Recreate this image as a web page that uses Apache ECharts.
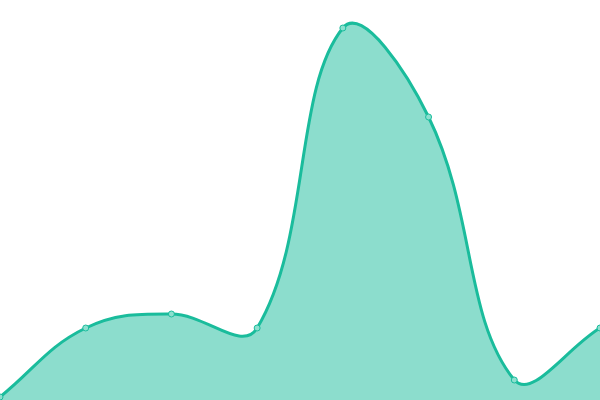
<!DOCTYPE html>
<html><head><meta charset="utf-8">
<script src="https://cdn.jsdelivr.net/npm/echarts@6/dist/echarts.min.js"></script>
<style>html,body{margin:0;padding:0;background:#fff}#c{width:600px;height:400px}</style>
</head><body><div id="c"></div>
<script>
const categories = ['A','B','C','D','E','F','G','H'];
const values = [3, 72, 86, 72, 372, 283, 20, 72];
const TENSION = 0.4;
const chart = echarts.init(document.getElementById('c'));

function renderItem(params, api) {
  if (params.dataIndex !== 0) return null;
  const pts = values.map((v, i) => api.coord([i, v]));
  const base = api.coord([0, 0])[1];
  const top = api.coord([0, 400])[1];
  const clampY = y => Math.max(top, Math.min(base, y));
  const n = pts.length;
  const cpPrev = [], cpNext = [];
  for (let i = 0; i < n; i++) {
    const p = pts[i];
    const pr = i > 0 ? pts[i - 1] : p;
    const nx = i < n - 1 ? pts[i + 1] : p;
    const d01 = Math.hypot(p[0] - pr[0], p[1] - pr[1]);
    const d12 = Math.hypot(nx[0] - p[0], nx[1] - p[1]);
    const sum = d01 + d12 || 1;
    const fa = TENSION * d01 / sum, fb = TENSION * d12 / sum;
    cpPrev.push([p[0] - fa * (nx[0] - pr[0]), clampY(p[1] - fa * (nx[1] - pr[1]))]);
    cpNext.push([p[0] + fb * (nx[0] - pr[0]), clampY(p[1] + fb * (nx[1] - pr[1]))]);
  }
  let d = 'M' + pts[0][0] + ' ' + pts[0][1];
  for (let i = 1; i < n; i++) {
    d += ' C' + cpNext[i - 1][0] + ' ' + cpNext[i - 1][1] + ' ' + cpPrev[i][0] + ' ' + cpPrev[i][1] + ' ' + pts[i][0] + ' ' + pts[i][1];
  }
  const area = d + ' L' + pts[n - 1][0] + ' ' + base + ' L' + pts[0][0] + ' ' + base + ' Z';
  const children = [
    {type: 'path', shape: {pathData: area}, style: {fill: 'rgba(26,188,156,0.5)', stroke: null}},
    {type: 'path', shape: {pathData: d}, style: {fill: null, stroke: '#1abc9c', lineWidth: 3, lineJoin: 'round'}}
  ];
  pts.forEach(p => children.push({type: 'circle', shape: {cx: p[0], cy: p[1], r: 3}, style: {fill: '#8ce0cf', stroke: '#1abc9c', lineWidth: 1}}));
  return {type: 'group', children};
}

chart.setOption({
  animation: false,
  grid: {left: 0, right: 0, top: 0, bottom: 0},
  xAxis: {type: 'category', data: categories, boundaryGap: false, show: false},
  yAxis: {type: 'value', min: 0, max: 400, show: false},
  series: [{
    type: 'custom',
    renderItem: renderItem,
    data: values.map((v, i) => [i, v]),
    encode: {x: 0, y: 1},
    clip: false
  }]
});
</script></body></html>
